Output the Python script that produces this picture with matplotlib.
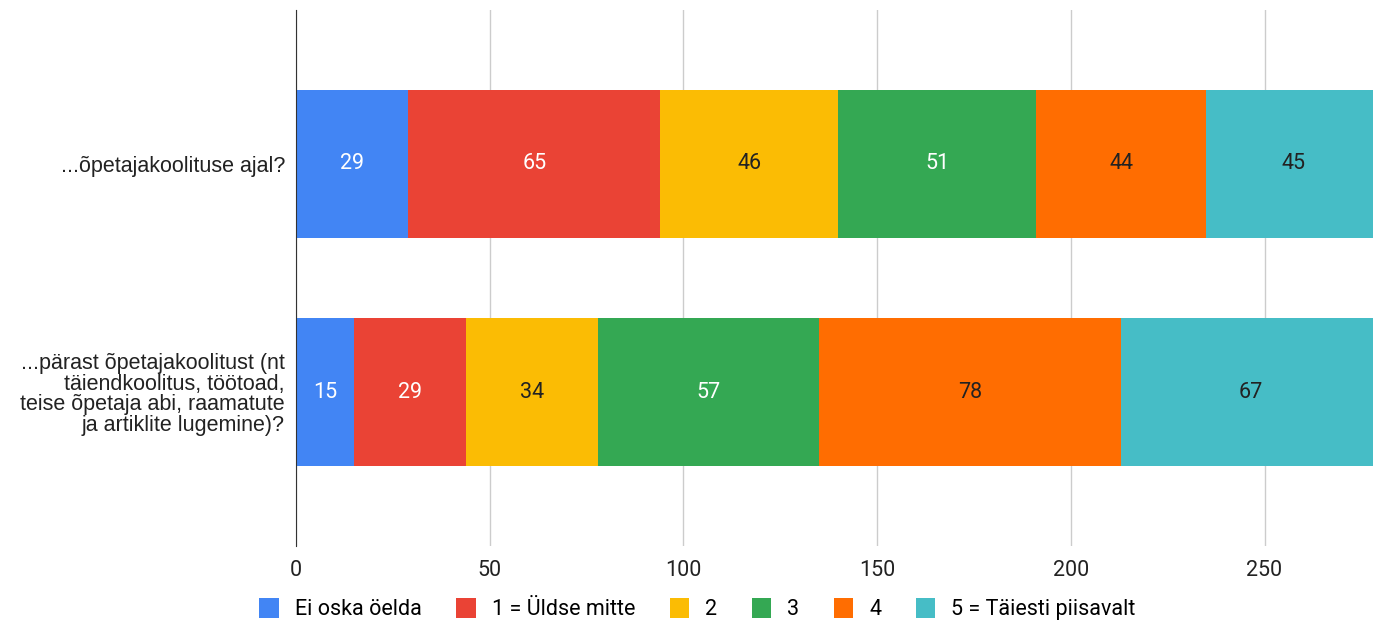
import numpy as np
import matplotlib.pyplot as plt
from matplotlib.patches import Patch

kysimused = ["...õpetajakoolituse ajal?",
             "...pärast õpetajakoolitust (nt\ntäiendkoolitus, töötoad,\nteise õpetaja abi, raamatute\nja artiklite lugemine)?"]
vastused = ["Ei oska öelda", "1 = Üldse mitte", "2", "3", "4", "5 = Täiesti piisavalt"]
vaartused = [
    [29, 15],
    [65, 29],
    [46, 34],
    [51, 57],
    [44, 78],
    [45, 67],
]
varvid = ["#4285f4", "#ea4335", "#fbbc04", "#34a853", "#ff6d01", "#46bdc6"]
teksti_varv = ["white", "white", "#222222", "white", "#222222", "#222222"]

fig = plt.figure(figsize=(13.73, 6.23), dpi=100)
ax = fig.add_axes([296 / 1373, (623 - 546) / 623, (1373 - 296) / 1373, 536 / 623])

y = np.arange(len(kysimused))
vasak = np.zeros(len(kysimused))
for i, nimi in enumerate(vastused):
    v = np.array(vaartused[i])
    bars = ax.barh(y, v, left=vasak, height=0.65, color=varvid[i], zorder=3)
    for b, val in zip(bars, v):
        ax.text(b.get_x() + b.get_width() / 2, b.get_y() + b.get_height() / 2, str(val),
                ha="center", va="center", color=teksti_varv[i], fontsize=15.5,
                family="Roboto", zorder=4)
    vasak += v

ax.set_xlim(0, 278)
ax.set_ylim(1.675, -0.675)
ax.set_xticks([0, 50, 100, 150, 200, 250])
ax.set_yticks(y)
ax.set_yticklabels(kysimused, family="Liberation Sans", fontsize=15.5, linespacing=0.97)
for lbl in ax.get_xticklabels():
    lbl.set_family("Roboto")
    lbl.set_fontsize(15.5)
ax.tick_params(axis="both", length=0)
ax.tick_params(axis="x", pad=10, colors="#222222")
ax.tick_params(axis="y", pad=8, colors="#222222")
ax.grid(axis="x", color="#cccccc", linewidth=1, zorder=0)
for s in ["top", "right", "bottom"]:
    ax.spines[s].set_visible(False)
ax.spines["left"].set_color("#333333")
ax.spines["left"].set_zorder(5)

handles = [Patch(facecolor=c, label=n) for c, n in zip(varvid, vastused)]
fig.legend(handles=handles, loc="center", bbox_to_anchor=(0.508, 1 - 609 / 623), ncol=6,
           frameon=False, prop={"family": "Roboto", "size": 15.5}, handlelength=0.9,
           handleheight=1.1, columnspacing=1.6, handletextpad=0.75)

fig.savefig("out.png", dpi=100)
